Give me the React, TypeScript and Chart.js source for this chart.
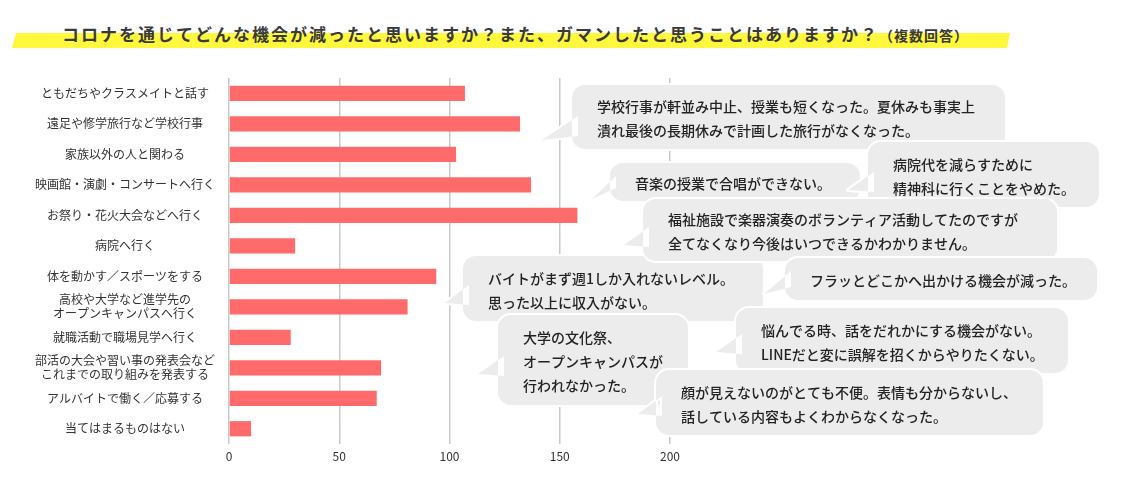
import React, { useEffect, useRef } from 'react';
import { Chart, registerables } from 'chart.js';

Chart.register(...registerables);

const FONT = '"Noto Sans CJK JP", "Noto Sans", sans-serif';

const categories: (string | string[])[] = [
  'ともだちやクラスメイトと話す',
  '遠足や修学旅行など学校行事',
  '家族以外の人と関わる',
  '映画館・演劇・コンサートへ行く',
  'お祭り・花火大会などへ行く',
  '病院へ行く',
  '体を動かす／スポーツをする',
  ['高校や大学など進学先の', 'オープンキャンパスへ行く'],
  '就職活動で職場見学へ行く',
  ['部活の大会や習い事の発表会など', 'これまでの取り組みを発表する'],
  'アルバイトで働く／応募する',
  '当てはまるものはない',
];

const counts = [107, 132, 103, 137, 158, 30, 94, 81, 28, 69, 67, 10];

const xMin = 0;
const xMax = 200;
const xStep = 50;

const titleMain =
  'コロナを通じてどんな機会が減ったと思いますか？また、ガマンしたと思うことはありますか？';
const titleNote = '（複数回答）';

const comments: string[][] = [
  ['学校行事が軒並み中止、授業も短くなった。夏休みも事実上', '潰れ最後の長期休みで計画した旅行がなくなった。'],
  ['音楽の授業で合唱ができない。'],
  ['病院代を減らすために', '精神科に行くことをやめた。'],
  ['福祉施設で楽器演奏のボランティア活動してたのですが', '全てなくなり今後はいつできるかわかりません。'],
  ['バイトがまず週1しか入れないレベル。', '思った以上に収入がない。'],
  ['フラッとどこかへ出かける機会が減った。'],
  ['悩んでる時、話をだれかにする機会がない。', 'LINEだと変に誤解を招くからやりたくない。'],
  ['大学の文化祭、', 'オープンキャンパスが', '行われなかった。'],
  ['顔が見えないのがとても不便。表情も分からないし、', '話している内容もよくわからなくなった。'],
];

// bubble placement (layout only)
const bubbleBoxes = [
  { x: 572, y: 85, w: 433, h: 64, tipX: 542, tipY: 140 },
  { x: 610, y: 163, w: 250, h: 38, tipX: 592, tipY: 199 },
  { x: 868, y: 142, w: 231, h: 65, tipX: 848, tipY: 190 },
  { x: 643, y: 199, w: 414, h: 62, tipX: 624, tipY: 245 },
  { x: 463, y: 256, w: 300, h: 65, tipX: 445, tipY: 303 },
  { x: 785, y: 258, w: 312, h: 42, tipX: 764, tipY: 294 },
  { x: 736, y: 308, w: 332, h: 65, tipX: 716, tipY: 352 },
  { x: 498, y: 315, w: 190, h: 90, tipX: 478, tipY: 374 },
  { x: 656, y: 370, w: 387, h: 65, tipX: 638, tipY: 414 },
];
const drawOrder = [0, 1, 2, 4, 3, 5, 6, 7, 8];

const bubblePlugin = {
  id: 'bubbles',
  afterDraw(chart: any) {
    const ctx: CanvasRenderingContext2D = chart.ctx;
    const r = 13;
    drawOrder.forEach((i) => {
      const b = bubbleBoxes[i];
      const lines = comments[i];
      const by2 = Math.min(b.tipY + 2, b.y + b.h - r);
      const by1 = Math.max(b.y + r, by2 - 20);
      const path = () => {
        ctx.beginPath();
        ctx.moveTo(b.x + r, b.y);
        ctx.arcTo(b.x + b.w, b.y, b.x + b.w, b.y + b.h, r);
        ctx.arcTo(b.x + b.w, b.y + b.h, b.x, b.y + b.h, r);
        ctx.arcTo(b.x, b.y + b.h, b.x, b.y, r);
        ctx.arcTo(b.x, b.y, b.x + b.w, b.y, r);
        ctx.closePath();
        ctx.moveTo(b.x + 6, by1);
        ctx.lineTo(b.tipX, b.tipY);
        ctx.lineTo(b.x + 6, by2);
        ctx.closePath();
      };
      ctx.save();
      path();
      ctx.strokeStyle = '#ffffff';
      ctx.lineWidth = 4;
      ctx.lineJoin = 'round';
      ctx.stroke();
      ctx.fillStyle = '#ececec';
      ctx.fill();
      ctx.fillStyle = '#222222';
      ctx.font = `500 14px ${FONT}`;
      ctx.textBaseline = 'middle';
      ctx.textAlign = 'left';
      const lh = 24;
      const cy = b.y + b.h / 2 + 2;
      const startY = cy - ((lines.length - 1) * lh) / 2;
      lines.forEach((t, k) => {
        ctx.fillText(t, b.x + 25, startY + k * lh);
      });
      ctx.restore();
    });
  },
};

export default function App() {
  const ref = useRef<HTMLCanvasElement>(null);

  useEffect(() => {
    Chart.defaults.font.family = FONT;
    const chart = new Chart(ref.current as HTMLCanvasElement, {
      type: 'bar',
      data: {
        labels: categories,
        datasets: [
          {
            data: counts,
            backgroundColor: '#ff6b6b',
            borderWidth: 0,
            barPercentage: 0.5,
            categoryPercentage: 1,
          },
        ],
      },
      options: {
        indexAxis: 'y',
        animation: false,
        responsive: false,
        layout: { padding: { top: 78, right: 451, left: 0, bottom: 0 } },
        plugins: {
          legend: { display: false },
          tooltip: { enabled: false },
        },
        scales: {
          x: {
            min: xMin,
            max: xMax,
            ticks: { stepSize: xStep, padding: 5, color: '#333', font: { size: 12 } },
            grid: { color: '#c9c9c9', lineWidth: 1.5, drawTicks: false },
            border: { display: false },
            afterFit: (s: any) => {
              s.height = 39;
            },
          },
          y: {
            ticks: {
              crossAlign: 'center',
              padding: 14,
              color: '#333',
              autoSkip: false,
              font: { size: 12, lineHeight: 1.17 },
            },
            grid: { display: false, drawTicks: false },
            border: { display: false },
            afterFit: (s: any) => {
              s.width = 229;
            },
          },
        },
      } as any,
      plugins: [bubblePlugin],
    });
    return () => chart.destroy();
  }, []);

  return (
    <div
      style={{
        position: 'fixed',
        left: 0,
        top: 0,
        width: 1121,
        height: 483,
        background: '#ffffff',
        overflow: 'hidden',
      }}
    >
      <div
        style={{
          position: 'absolute',
          left: 12,
          top: 33,
          width: 998,
          height: 15,
          background: '#fff83d',
          clipPath: 'polygon(4px 0, 100% 0, calc(100% - 3px) 100%, 0 100%)',
        }}
      />
      <div
        style={{
          position: 'absolute',
          left: 62,
          top: 25,
          height: 17,
          lineHeight: '17px',
          fontSize: 17,
          fontWeight: 700,
          letterSpacing: '2px',
          color: '#3a3a3a',
          fontFamily: FONT,
          whiteSpace: 'nowrap',
        }}
      >
        {titleMain}
        <span style={{ fontSize: 14, letterSpacing: '1px' }}>{titleNote}</span>
      </div>
      <canvas
        ref={ref}
        width={1121}
        height={483}
        style={{ position: 'absolute', left: 0, top: 0 }}
      />
    </div>
  );
}
